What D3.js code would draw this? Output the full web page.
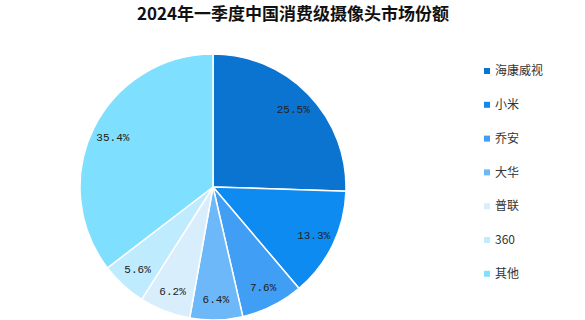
<!DOCTYPE html>
<html>
<head>
<meta charset="utf-8">
<script src="https://cdn.jsdelivr.net/npm/d3@7"></script>
<style>
  body { margin: 0; background: #fff; }
  svg { display: block; }
</style>
</head>
<body>
<div id="chart"></div>
<script>
// chart data
const titleText = "2024年一季度中国消费级摄像头市场份额";
const brands = ["海康威视", "小米", "乔安", "大华", "普联", "360", "其他"];
const shares = [25.5, 13.3, 7.6, 6.4, 6.2, 5.6, 35.4];
const sliceColors = ["#0B74D0", "#0E8BF0", "#409FF5", "#6DB8F8", "#D8EEFD", "#BFEBFE", "#7EDFFF"];

const width = 585, height = 320;
const cx = 213, cy = 187, radius = 133;

const svg = d3.select("#chart").append("svg")
    .attr("width", width)
    .attr("height", height);

// title
svg.append("text")
    .attr("x", 293)
    .attr("y", 20)
    .attr("text-anchor", "middle")
    .style("font-family", "'Noto Sans CJK SC', sans-serif")
    .style("font-weight", "bold")
    .style("font-size", "17px")
    .style("fill", "#111")
    .text(titleText);

const data = brands.map((b, i) => ({ brand: b, value: shares[i], color: sliceColors[i] }));

const pie = d3.pie().sort(null).value(d => d.value);
const arc = d3.arc().innerRadius(0).outerRadius(radius);
const labelArc = d3.arc().innerRadius(radius * 0.84).outerRadius(radius * 0.84);

const g = svg.append("g").attr("transform", `translate(${cx},${cy})`);

const arcs = pie(data);

g.selectAll("path")
    .data(arcs)
    .enter()
    .append("path")
    .attr("d", arc)
    .attr("fill", d => d.data.color)
    .attr("stroke", "#fff")
    .attr("stroke-width", 1.5);

g.selectAll("text.lbl")
    .data(arcs)
    .enter()
    .append("text")
    .attr("class", "lbl")
    .attr("transform", d => `translate(${labelArc.centroid(d)})`)
    .attr("text-anchor", "middle")
    .attr("dy", "0.35em")
    .style("font-family", "'Liberation Mono', monospace")
    .style("font-size", "11px")
    .style("fill", "#222")
    .text(d => d.data.value.toFixed(1) + "%");

// legend
const legend = svg.append("g").attr("transform", "translate(487,71)");
const item = legend.selectAll("g")
    .data(data)
    .enter()
    .append("g")
    .attr("transform", (d, i) => `translate(0,${i * 33.8})`);

item.append("rect")
    .attr("x", -3)
    .attr("y", -3)
    .attr("width", 6)
    .attr("height", 6)
    .attr("fill", d => d.color);

item.append("text")
    .attr("x", 8)
    .attr("dy", "0.35em")
    .style("font-family", "'Noto Sans CJK SC', sans-serif")
    .style("font-size", "12px")
    .style("fill", "#333")
    .text(d => d.brand);
</script>
</body>
</html>
